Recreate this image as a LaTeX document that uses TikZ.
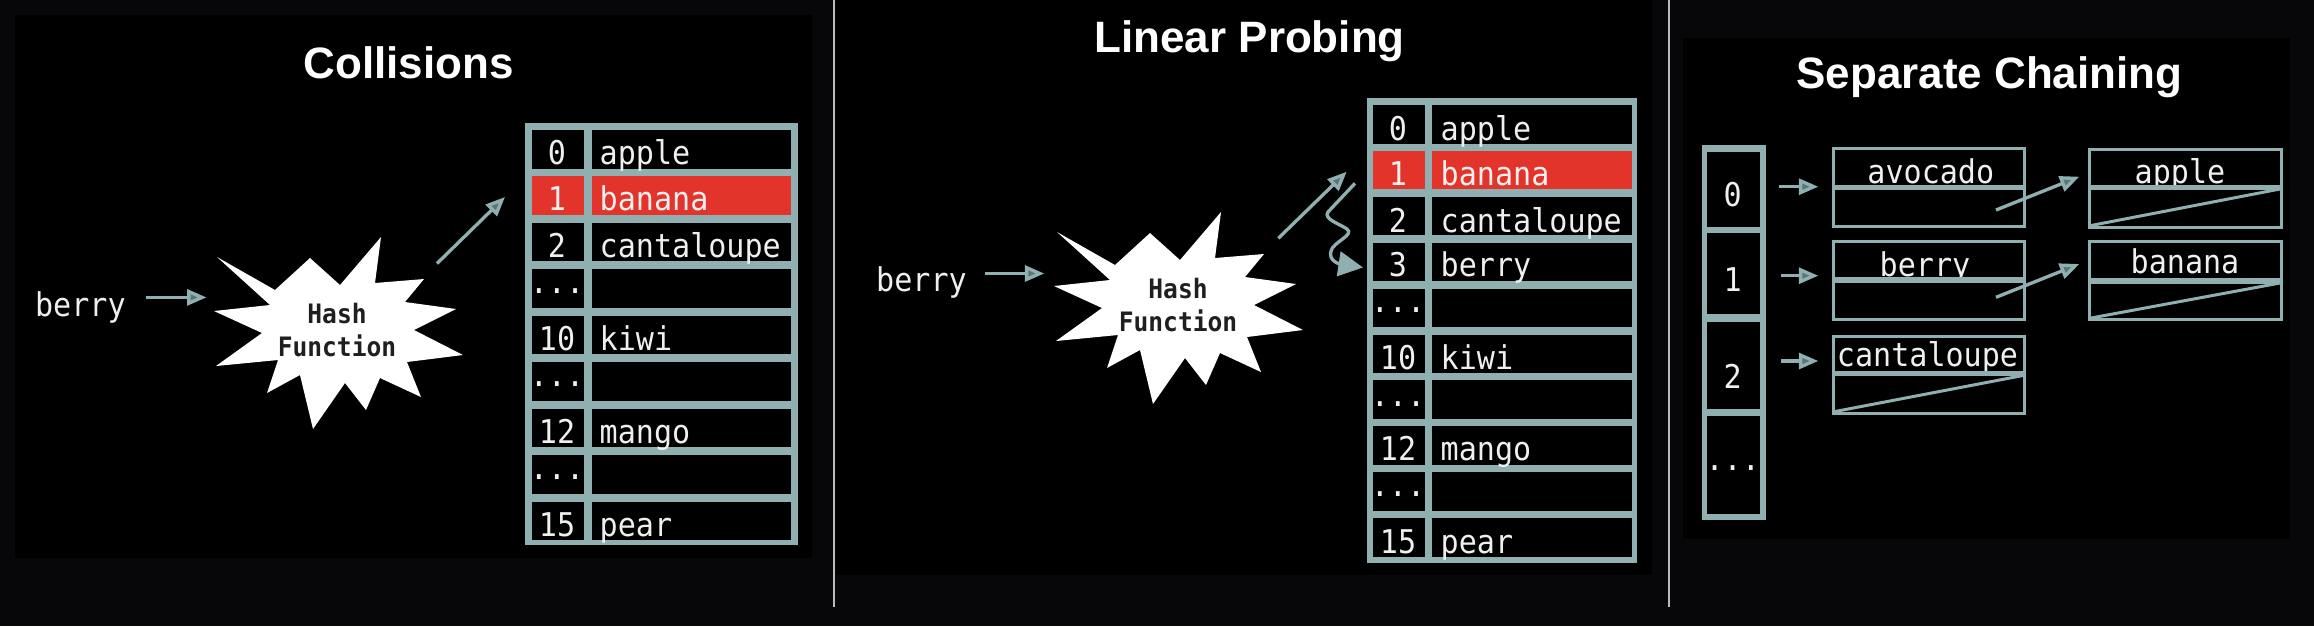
\documentclass[tikz,border=0pt]{standalone}
\usepackage{fontspec}
\newfontfamily\monof[FakeStretch=0.92]{DejaVu Sans Mono}
\newfontfamily\titlef{Liberation Sans}
\usetikzlibrary{arrows.meta}
\definecolor{bgout}{HTML}{07070A}
\definecolor{grid}{HTML}{8FAFB1}
\definecolor{hl}{HTML}{E2342A}
\definecolor{txt}{HTML}{EFEFEF}
\definecolor{afill}{HTML}{5A7678}
\definecolor{sepc}{HTML}{BBBBBB}
\newcommand\mydots{.{}.{}.}
\begin{document}
\begin{tikzpicture}[x=0.01cm,y=-0.01cm,
  ttl/.style={font=\titlef\bfseries\fontsize{12.5}{15}\selectfont, text=white, anchor=base, inner sep=0},
  mono/.style={font=\monof\fontsize{9.3}{11}\selectfont, text=txt, inner sep=0},
  hashtxt/.style={font=\monof\bfseries\fontsize{7.6}{9.4}\selectfont, text=black!88, align=center, inner sep=0},
  conn/.style={draw=grid, line width=0.95pt, -{Triangle[length=5.5pt,width=4.5pt,fill=afill]}},
  sepline/.style={draw=sepc, line width=0.35pt},
  boxline/.style={draw=grid, line width=0.85pt},
  divline/.style={draw=grid, line width=1.6pt}]
\useasboundingbox (0,0) rectangle (2314,626);
\fill[bgout] (0,0) rectangle (2314,626);
\fill[black] (15,15) rectangle (812,558);
\fill[black] (836,0) rectangle (1652,575);
\fill[black] (1683,38) rectangle (2290,539);
\draw[sepline] (834,0) -- (834,607);
\draw[sepline] (1669,0) -- (1669,607);

% titles
\node[ttl] (t1) at (408.5,78) {Collisions};
\node[ttl] (t2) at (1249.7,52) {Linear Probing};
\node[ttl] (t3) at (1989.5,88) {Separate Chaining};

% ---------- Panel 1 ----------
\node[mono, anchor=base west] (berry1) at (34.4,316) {berry};
\coordinate (p1s) at (145.6,297.4);
\coordinate (p1e) at (206.5,297.4);
\draw[conn] (p1s) -- (p1e);
\fill[white] (217,257) -- (275,290) -- (310,258) -- (340,285) -- (381,237) -- (375,283)
  -- (424,279) -- (405,302) -- (456,309) -- (414,330) -- (463,355) -- (407,362)
  -- (421,397) -- (380,378) -- (366,410) -- (345,383) -- (313,429) -- (300,375)
  -- (267,393) -- (278,360) -- (216,366) -- (262,333) -- (214,311) -- (270,305) -- cycle;
\node[hashtxt] (hash1) at (337,330) {Hash\\Function};
\coordinate (p1h) at (437,263.5);
\coordinate (p1t) at (505,197);
\draw[conn] (p1h) -- (p1t);

\fill[grid] (525,123) rectangle (797.5,544.5);
\foreach \i in {0,1,2,3,4,5,6,7,8} {
  \pgfmathsetmacro\yT{130+46.45*\i}
  \pgfmathsetmacro\yB{\yT+38.5}
  \fill[black] (532,\yT) rectangle (584,\yB);
  \fill[black] (591.5,\yT) rectangle (790.5,\yB);
}
\fill[hl] (532,176.45) rectangle (584,214.95);
\fill[hl] (591.5,176.45) rectangle (790.5,214.95);
\foreach \i/\idx/\val/\off in {0/0/apple/4,1/1/banana/4,2/2/cantaloupe/4,3/\mydots/{}/14,4/10/kiwi/4,5/\mydots/{}/14,6/12/mango/4,7/\mydots/{}/14,8/15/pear/4} {
  \pgfmathsetmacro\yB{130+46.45*\i+38.5-\off}
  \node[mono, anchor=base] (ai\i) at (557,\yB) {\idx};
  \node[mono, anchor=base west] (av\i) at (599,\yB) {\val};
}

% ---------- Panel 2 ----------
\node[mono, anchor=base west] (berry2) at (875.5,291) {berry};
\coordinate (p2s) at (985.3,273.5);
\coordinate (p2e) at (1044.3,273.5);
\draw[conn] (p2s) -- (p2e);
\begin{scope}[shift={(840,-25)}]
\fill[white] (217,257) -- (275,290) -- (310,258) -- (340,285) -- (381,237) -- (375,283)
  -- (424,279) -- (405,302) -- (456,309) -- (414,330) -- (463,355) -- (407,362)
  -- (421,397) -- (380,378) -- (366,410) -- (345,383) -- (313,429) -- (300,375)
  -- (267,393) -- (278,360) -- (216,366) -- (262,333) -- (214,311) -- (270,305) -- cycle;
\node[hashtxt] (hash2) at (338,330) {Hash\\Function};
\end{scope}
\coordinate (p2h) at (1278.3,238.3);
\coordinate (p2t) at (1346.7,171.7);
\draw[conn] (p2h) -- (p2t);
\coordinate (w0) at (1355,183.3);
\coordinate (w1) at (1328,212);
\coordinate (w2) at (1347,229);
\coordinate (w3) at (1331,251);
\coordinate (w4) at (1363,267.5);
\draw[draw=grid, line width=0.95pt, -{Triangle[length=7pt,width=7pt,fill=grid]}]
  (w0) -- (w1) .. controls (1323,219) and (1340,224) .. (w2)
  .. controls (1355,235) and (1333,242) .. (w3)
  .. controls (1328,261) and (1340,264) .. (w4);

\fill[grid] (1366.7,98.3) rectangle (1636.7,563);
\foreach \i in {0,1,2,3,4,5,6,7,8,9} {
  \pgfmathsetmacro\yT{105+45.9*\i}
  \pgfmathsetmacro\yB{\yT+38.5}
  \fill[black] (1373.3,\yT) rectangle (1425,\yB);
  \fill[black] (1431.7,\yT) rectangle (1631.7,\yB);
}
\fill[hl] (1373.3,150.9) rectangle (1425,189.4);
\fill[hl] (1431.7,150.9) rectangle (1631.7,189.4);
\foreach \i/\idx/\val/\off in {0/0/apple/3,1/1/banana/4,2/2/cantaloupe/3,3/3/berry/5,4/\mydots/{}/15,5/10/kiwi/4,6/\mydots/{}/12,7/12/mango/4,8/\mydots/{}/14,9/15/pear/3} {
  \pgfmathsetmacro\yB{105+45.9*\i+38.5-\off}
  \node[mono, anchor=base] (bi\i) at (1398,\yB) {\idx};
  \node[mono, anchor=base west] (bv\i) at (1440,\yB) {\val};
}

% ---------- Panel 3 ----------
\fill[grid] (1701.7,145) rectangle (1766,520);
\fill[black] (1707.3,151.7) rectangle (1760,226.7);
\fill[black] (1707.3,233.3) rectangle (1760,314);
\fill[black] (1707.3,321.7) rectangle (1760,409.3);
\fill[black] (1707.3,416) rectangle (1760,514);
\node[mono, anchor=base] (ci0) at (1732.7,206.7) {0};
\node[mono, anchor=base] (ci1) at (1732.7,291.7) {1};
\node[mono, anchor=base] (ci2) at (1732.7,388.3) {2};
\node[mono, anchor=base] (ci3) at (1732.7,470) {\mydots};

\coordinate (r0s) at (1779.3,186.7); \coordinate (r0e) at (1818.3,186.7);
\coordinate (r1s) at (1780.7,275.7); \coordinate (r1e) at (1818.3,275.7);
\coordinate (r2s) at (1780.7,361);   \coordinate (r2e) at (1818.3,361);
\draw[conn] (r0s) -- (r0e);
\draw[conn] (r1s) -- (r1e);
\draw[conn] (r2s) -- (r2e);

% list node texts
\node[mono, anchor=base] (n0) at (1930.8,183.3) {avocado};
\node[mono, anchor=base] (n1) at (1925,276.7) {berry};
\node[mono, anchor=base] (n2) at (1927.5,366.7) {cantaloupe};
\node[mono, anchor=base] (m0) at (2180,183.3) {apple};
\node[mono, anchor=base] (m1) at (2185,273.3) {banana};

% list node boxes
\draw[boxline] (1833,148.3) rectangle (2024.5,226);
\draw[divline] (1833,187.3) -- (2024.5,187.3);
\draw[boxline] (1833,241.7) rectangle (2024.5,319.3);
\draw[divline] (1833,280) -- (2024.5,280);
\draw[boxline] (1833,336) rectangle (2024.5,413.3);
\draw[divline] (1833,373.3) -- (2024.5,373.3);
\draw[boxline] (1835,411.5) -- (2023,375.5);
\draw[boxline] (2089.5,149) rectangle (2281.7,227);
\draw[divline] (2089.5,187.3) -- (2281.7,187.3);
\draw[boxline] (2091,225.5) -- (2280,189);
\draw[boxline] (2089.5,241.7) rectangle (2281.7,319.3);
\draw[divline] (2089.5,281) -- (2281.7,281);
\draw[boxline] (2091,318) -- (2280,283);

\coordinate (q0s) at (1996,210);   \coordinate (q0e) at (2079.3,176.7);
\coordinate (q1s) at (1996,297.3); \coordinate (q1e) at (2079.3,264);
\draw[conn] (q0s) -- (q0e);
\draw[conn] (q1s) -- (q1e);
\end{tikzpicture}
\end{document}
